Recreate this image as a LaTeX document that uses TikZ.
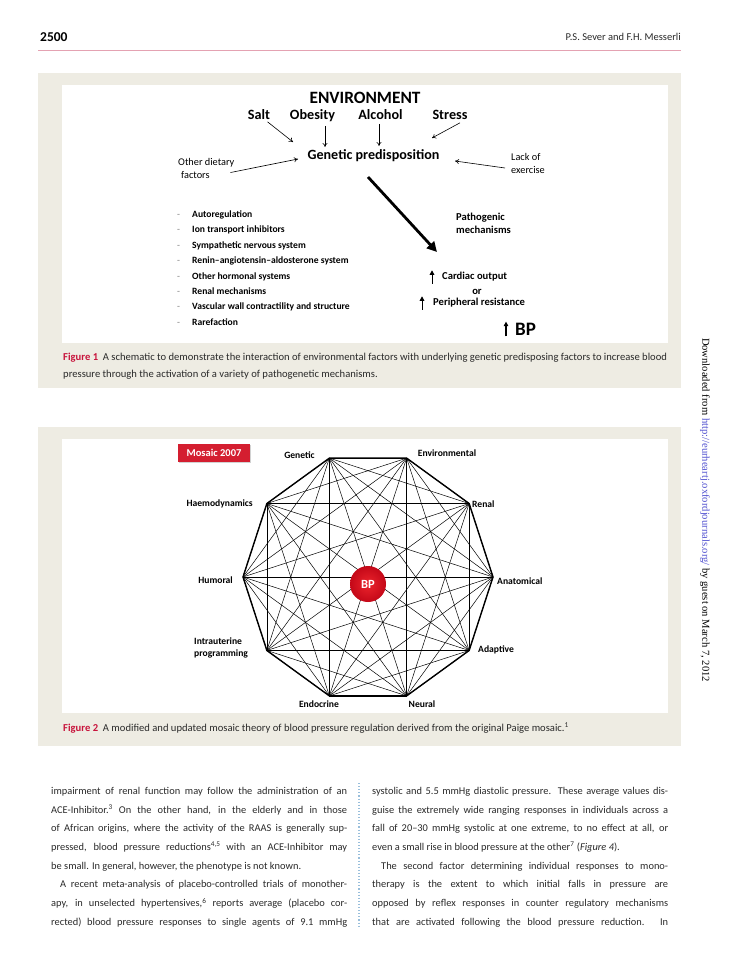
\documentclass[tikz,border=0pt]{standalone}
\usepackage{fontspec}
\setmainfont{Carlito}
\newfontfamily\sidefont{Liberation Serif}
\usetikzlibrary{arrows.meta,calc,positioning,shadows}

\definecolor{panelbeige}{HTML}{EEECE3}
\definecolor{figred}{HTML}{C8143C}
\definecolor{rulepink}{HTML}{E4A2B2}
\definecolor{boxred}{HTML}{D41E30}
\definecolor{linkblue}{HTML}{5050D0}
\definecolor{sepblue}{HTML}{98BEDB}
\definecolor{bodygray}{HTML}{2A2A2A}

\newcommand{\colline}[1]{\makebox[296pt][s]{#1}}
\newcommand{\lastline}[1]{\makebox[296pt][l]{#1}}

\begin{document}
\begin{tikzpicture}[
    x=1pt, y=-1pt,
    every node/.style={inner sep=0pt},
    envtitle/.style={font=\bfseries\fontsize{17.3}{19}\selectfont},
    factor/.style={font=\bfseries\fontsize{14.2}{16}\selectfont, inner sep=1.5pt, anchor=base},
    gene/.style={font=\bfseries\fontsize{14.1}{16}\selectfont},
    note/.style={font=\fontsize{10.3}{13}\selectfont, align=left, anchor=west},
    notebf/.style={font=\bfseries\fontsize{10.6}{13}\selectfont, align=left, anchor=west},
    listitem/.style={font=\bfseries\fontsize{9.6}{11}\selectfont, anchor=base west},
    arr/.style={-{To[length=4pt,width=5pt]}, line width=0.6pt},
    bigarr/.style={-{Triangle[length=10pt,width=10pt]}, line width=2.8pt},
    uparr/.style={-{Triangle[length=4.5pt,width=4.5pt]}, line width=1pt},
    rim/.style={line width=1.4pt, line join=round},
    chord/.style={line width=0.5pt},
    mlabel/.style={font=\bfseries\fontsize{9.6}{12}\selectfont, align=left},
    mosaicbox/.style={fill=boxred, text=white, minimum width=72pt, minimum height=18pt,
        font=\bfseries\fontsize{10.5}{12}\selectfont,
        drop shadow={shadow xshift=1pt, shadow yshift=-1pt, opacity=0.35}},
    bpball/.style={circle, minimum size=36pt, shading=radial,
        inner color={rgb,255:red,236;green,36;blue,44}, outer color={rgb,255:red,196;green,8;blue,24},
        text=white, font=\bfseries\fontsize{12.5}{14}\selectfont},
    figcap/.style={font=\fontsize{10.6}{16.8}\selectfont, text=bodygray, align=left, anchor=north west},
    bodytext/.style={font=\fontsize{10.4}{18.7}\selectfont, text=bodygray, align=left, anchor=north west}
]
\fill[white] (0,0) rectangle (728,971);
\useasboundingbox (0,0) rectangle (728,971);

% running head
\node[font=\bfseries\fontsize{13.5}{15}\selectfont, anchor=west] (pageno) at (40,37) {2500};
\node[font=\fontsize{10.5}{12}\selectfont, anchor=east, text=bodygray] (authors) at (681,37) {P.S. Sever and F.H. Messerli};
\draw[rulepink, line width=1pt] (38,51) -- (681,51);

% figure 1
\fill[panelbeige] (38,73) rectangle (681,388);
\fill[white] (62,85) rectangle (668,343);

\node[envtitle] (env) at (365,98) {ENVIRONMENT};
\node[factor] (salt) at (259,120) {Salt};
\node[factor] (obes) at (312.5,120) {Obesity};
\node[factor] (alc) at (380.5,120) {Alcohol};
\node[factor] (stress) at (450,120) {Stress};
\node[gene] (gen) at (373.5,156) {Genetic predisposition};
\node[note] (diet) at (178,168.5) {Other dietary\\\hspace*{3pt}factors};
\node[note] (lack) at (511,163.5) {Lack of\\exercise};
\node[notebf] (patho) at (456,223.5) {Pathogenic\\mechanisms};

\coordinate (salt-in) at (293,142);
\coordinate (obes-in) at (325,147);
\coordinate (alc-in) at (379,146);
\coordinate (stress-in) at (432,138);
\coordinate (diet-in) at (298,159);
\coordinate (lack-in) at (455,161);
\coordinate (gen-out) at (368,177);
\coordinate (patho-in) at (437,252);

\draw[arr] (salt) -- (salt-in);
\draw[arr] ([yshift=-2pt]obes.south -| obes-in) -- (obes-in);
\draw[arr] ([yshift=-2pt]alc.south -| alc-in) -- (alc-in);
\draw[arr] ([xshift=10pt,yshift=-1pt]stress.south) -- (stress-in);
\draw[arr] ([xshift=-4pt,yshift=-4pt]diet.east) -- (diet-in);
\draw[arr] ([xshift=-6pt,yshift=-4.5pt]lack.west) -- (lack-in);
\draw[bigarr] (gen-out) -- (patho-in);

\foreach \t [count=\i] in {Autoregulation, Ion transport inhibitors, Sympathetic nervous system,
    Renin–angiotensin–aldosterone system, Other hormonal systems, Renal mechanisms,
    Vascular wall contractility and structure, Rarefaction}
  \node[listitem] (item\i) at (177,{217.5+15.4*(\i-1)}) {\makebox[15pt][l]{\mdseries\textcolor{gray}{-}}\t};

\node[notebf] (card) at (442,277) {Cardiac output};
\node[notebf, anchor=base] (or) at (477,294) {or};
\node[notebf] (peri) at (433,303) {Peripheral resistance};
\node[font=\bfseries\fontsize{19}{21}\selectfont, anchor=west] (bp) at (515,329) {BP};
\draw[uparr] ([xshift=-10pt,yshift=-2pt]card.south west) -- ([xshift=-10pt,yshift=2pt]card.north west);
\draw[uparr] ([xshift=-11pt,yshift=-2pt]peri.south west) -- ([xshift=-11pt,yshift=2pt]peri.north west);
\draw[uparr, line width=1.4pt] ([xshift=-9pt,yshift=-1pt]bp.south west) -- ([xshift=-9pt,yshift=1pt]bp.north west);

\node[figcap] (cap1) at (63,353) {\textcolor{figred}{\bfseries Figure 1}\ \ A schematic to demonstrate the interaction of environmental factors with underlying genetic predisposing factors to increase blood\\pressure through the activation of a variety of pathogenetic mechanisms.};

% figure 2
\fill[panelbeige] (38,427) rectangle (681,746);
\fill[white] (62,439) rectangle (668,713);

\coordinate (mc) at (368,577);
\foreach \i in {0,...,9}
  \coordinate (v\i) at ($(mc)+(\i*36:125)$);
\foreach \i in {0,...,8}{
  \pgfmathtruncatemacro\nxt{\i+1}
  \foreach \j in {\nxt,...,9}
    \draw[chord] (v\i) -- (v\j);
}
\draw[rim] (v0) -- (v1) -- (v2) -- (v3) -- (v4) -- (v5) -- (v6) -- (v7) -- (v8) -- (v9) -- cycle;

\node[bpball] (bpc) at (368,584) {BP};
\node[mosaicbox] (mosaic) at (214,453) {Mosaic 2007};

\node[mlabel, anchor=base] (genetic) at (299.5,458) {Genetic};
\node[mlabel, anchor=base] (environ) at (447,456) {Environmental};
\node[mlabel, anchor=base east] (haemo) at (253,506) {Haemodynamics};
\node[mlabel, anchor=base west] (renal) at (472,507) {Renal};
\node[mlabel, anchor=base east] (humoral) at (233,583) {Humoral};
\node[mlabel, anchor=base west] (anat) at (497,584) {Anatomical};
\node[mlabel, anchor=west] (intra) at (194,648) {Intrauterine\\programming};
\node[mlabel, anchor=base west] (adapt) at (478,652) {Adaptive};
\node[mlabel, anchor=base] (endo) at (319,707) {Endocrine};
\node[mlabel, anchor=base] (neural) at (422,707) {Neural};

\node[figcap] (cap2) at (63,723) {\textcolor{figred}{\bfseries Figure 2}\ \ A modified and updated mosaic theory of blood pressure regulation derived from the original Paige mosaic.\textsuperscript{1}};

% body text
\node[bodytext] (colL) at (51,787) {%
\colline{impairment of renal function may follow the administration of an}\\
\colline{ACE-Inhibitor.\textsuperscript{3} On the other hand, in the elderly and in those}\\
\colline{of African origins, where the activity of the RAAS is generally sup-}\\
\colline{pressed, blood pressure reductions\textsuperscript{4,5} with an ACE-Inhibitor may}\\
\lastline{be small. In general, however, the phenotype is not known.}\\
\colline{\hspace*{9pt}A recent meta-analysis of placebo-controlled trials of monother-}\\
\colline{apy, in unselected hypertensives,\textsuperscript{6} reports average (placebo cor-}\\
\colline{rected) blood pressure responses to single agents of 9.1 mmHg}};
\node[bodytext] (colR) at (372,787) {%
\colline{systolic and 5.5 mmHg diastolic pressure. These average values dis-}\\
\colline{guise the extremely wide ranging responses in individuals across a}\\
\colline{fall of 20–30 mmHg systolic at one extreme, to no effect at all, or}\\
\lastline{even a small rise in blood pressure at the other\textsuperscript{7} (\emph{Figure 4}).}\\
\colline{\hspace*{9pt}The second factor determining individual responses to mono-}\\
\colline{therapy is the extent to which initial falls in pressure are}\\
\colline{opposed by reflex responses in counter regulatory mechanisms}\\
\colline{that are activated following the blood pressure reduction. In}};
\draw[sepblue, line width=1.1pt, dotted] (359,783) -- (359,928);

% download note
\node[font=\sidefont\fontsize{10.6}{12}\selectfont, rotate=-90] (dl) at (705,510) {Downloaded from \textcolor{linkblue}{http://eurheartj.oxfordjournals.org/} by guest on March 7, 2012};
\end{tikzpicture}
\end{document}
